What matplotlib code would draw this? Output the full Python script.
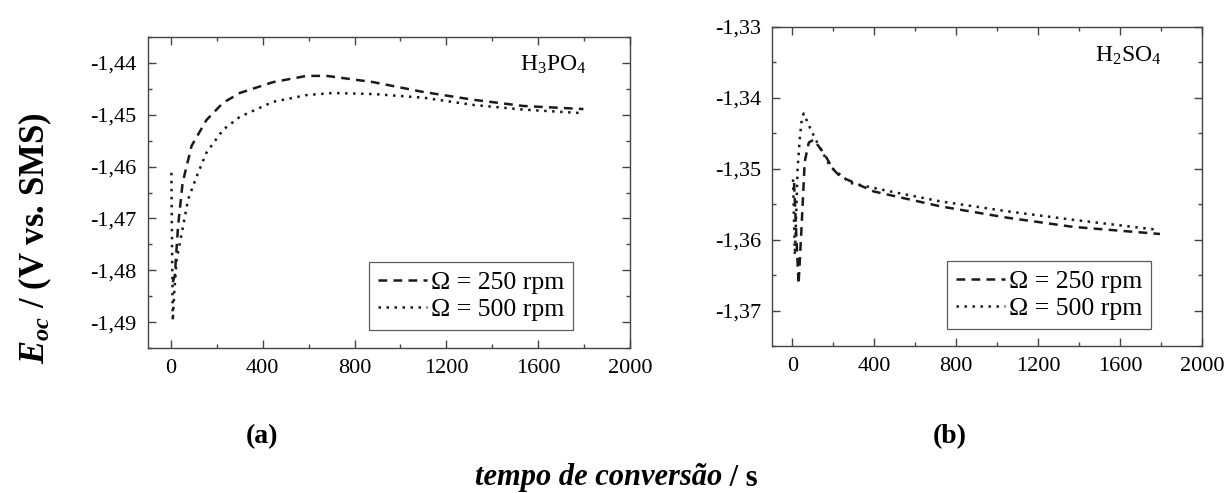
import matplotlib
matplotlib.use('Agg')
import matplotlib.pyplot as plt
from matplotlib.ticker import MultipleLocator, FuncFormatter

plt.rcParams['font.family'] = ['Liberation Serif', 'DejaVu Serif']
plt.rcParams['mathtext.fontset'] = 'custom'
plt.rcParams['mathtext.rm'] = 'Liberation Serif'
plt.rcParams['mathtext.it'] = 'Liberation Serif:italic'
plt.rcParams['mathtext.bf'] = 'Liberation Serif:bold'
plt.rcParams['mathtext.bfit'] = 'Liberation Serif:italic:bold'

# (a) H3PO4
t_a250 = [8, 17, 31, 51, 90, 155, 227, 300, 445, 591, 679, 881, 1099, 1317, 1535, 1797]
e_a250 = [-1.4823, -1.4810, -1.4715, -1.4631, -1.4560, -1.4510, -1.4477, -1.4458, -1.4437,
          -1.4425, -1.4425, -1.4437, -1.4456, -1.4471, -1.4483, -1.4489]
t_a500 = [2, 8, 15, 25, 53, 75, 112, 155, 227, 300, 445, 591, 706, 881, 1099, 1317, 1535, 1797]
e_a500 = [-1.4612, -1.4898, -1.4840, -1.4779, -1.4715, -1.4663, -1.4619, -1.4573, -1.4529,
          -1.4504, -1.4475, -1.4462, -1.4458, -1.4460, -1.4467, -1.4481, -1.4490, -1.4497]

# (b) H2SO4
t_b250 = [8, 20, 30, 45, 60, 80, 104, 153, 200, 234, 397, 722, 1048, 1371, 1795]
e_b250 = [-1.3520, -1.3600, -1.3663, -1.3580, -1.3490, -1.3463, -1.3459, -1.3478, -1.3501,
          -1.3511, -1.3532, -1.3553, -1.3569, -1.3582, -1.3592]
t_b500 = [3, 12, 20, 25, 35, 45, 55, 90, 121, 185, 283, 478, 722, 1048, 1371, 1780]
e_b500 = [-1.3515, -1.3622, -1.3550, -1.3502, -1.3460, -1.3432, -1.3422, -1.3445, -1.3463,
          -1.3497, -1.3520, -1.3532, -1.3546, -1.3560, -1.3572, -1.3586]

lab250 = 'Ω = 250 rpm'
lab500 = 'Ω = 500 rpm'

virgula = FuncFormatter(lambda v, p: ('%.2f' % v).replace('.', ','))

fig = plt.figure(figsize=(12.3, 4.93), dpi=100)
ax1 = fig.add_axes([0.1203, 0.2941, 0.3919, 0.6308])
ax2 = fig.add_axes([0.6276, 0.2982, 0.3496, 0.6471])

cor = '#1a1a1a'
for ax, t1, e1, t2, e2, ylim, nome, nx, leg_x, leg_y in [
        (ax1, t_a250, e_a250, t_a500, e_a500, (-1.495, -1.435), r'H$_3$PO$_4$', 0.84, 0.882, 0.058),
        (ax2, t_b250, e_b250, t_b500, e_b500, (-1.375, -1.33), r'H$_2$SO$_4$', 0.828, 0.881, 0.053)]:
    ax.plot(t1, e1, color=cor, lw=1.8, ls=(0, (3.5, 2.5)), label=lab250)
    ax.plot(t2, e2, color=cor, lw=1.8, ls=(0, (1, 2.2)), label=lab500)
    ax.set_xlim(-100, 2000)
    ax.set_ylim(*ylim)
    ax.xaxis.set_major_locator(MultipleLocator(400))
    ax.xaxis.set_minor_locator(MultipleLocator(200))
    ax.yaxis.set_major_locator(MultipleLocator(0.01))
    ax.yaxis.set_minor_locator(MultipleLocator(0.005))
    ax.yaxis.set_major_formatter(virgula)
    ax.tick_params(which='both', direction='in', top=True, right=True, color='#444444')
    ax.tick_params(which='major', length=6, width=1, labelsize=16, pad=8)
    ax.tick_params(which='minor', length=3, width=1)
    for s in ax.spines.values():
        s.set_color('#444444')
        s.set_linewidth(1.0)
    ax.text(nx, 0.91, nome, transform=ax.transAxes, ha='center', va='center', fontsize=17)
    lg = ax.legend(loc='lower right', bbox_to_anchor=(leg_x, leg_y), borderaxespad=0,
                   fontsize=18.5, frameon=True, fancybox=False, edgecolor='#333333',
                   handlelength=1.9, handletextpad=0.15, labelspacing=0.15,
                   borderpad=0.35)
    lg.get_frame().set_linewidth(0.9)

fig.text(0.0285, 1 - 238 / 493, r'$\mathbfit{E}_{\mathbfit{oc}}$ / (V vs. SMS)', rotation=90,
         ha='center', va='center', fontsize=25, fontweight='bold')
fig.text(262 / 1230, 1 - 437 / 493, '(a)', ha='center', va='center', fontsize=20, fontweight='bold')
fig.text(950 / 1230, 1 - 437 / 493, '(b)', ha='center', va='center', fontsize=20, fontweight='bold')
fig.text(722 / 1230, 1 - 478 / 493, r'tempo de conversão', ha='right', va='center',
         fontsize=22, fontweight='bold', fontstyle='italic')
fig.text(722 / 1230, 1 - 478 / 493, ' / s', ha='left', va='center', fontsize=22, fontweight='bold')

plt.savefig('out.png', dpi=100)
